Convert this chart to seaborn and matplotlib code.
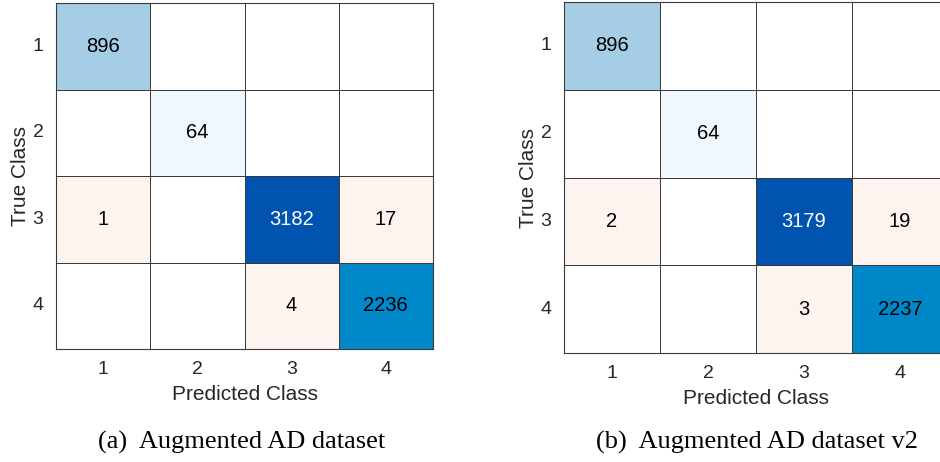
import numpy as np
import pandas as pd
import matplotlib
matplotlib.use("Agg")
import matplotlib.pyplot as plt
from matplotlib.colors import LinearSegmentedColormap, ListedColormap, Normalize
import seaborn as sns

# Class labels and confusion counts (rows: true class, columns: predicted class)
classes = ["1", "2", "3", "4"]
counts_a = [
    [896, 0, 0, 0],
    [0, 64, 0, 0],
    [1, 0, 3182, 17],
    [0, 0, 4, 2236],
]
counts_b = [
    [896, 0, 0, 0],
    [0, 64, 0, 0],
    [2, 0, 3179, 19],
    [0, 0, 3, 2237],
]
captions = ["(a)  Augmented AD dataset", "(b)  Augmented AD dataset v2"]

sns.set_theme(style="white")
plt.rcParams["font.family"] = ["Liberation Sans", "DejaVu Sans"]

text_gray = "#262626"
grid_col = "#3a3a3a"

diag_cmap = LinearSegmentedColormap.from_list(
    "diag_blues",
    [(0.0, "#f6faff"), (0.28, "#a6cde6"), (0.70, "#0088c8"), (1.0, "#0053ae")],
)
off_cmap = ListedColormap(["#fdf3ef"])
white_cmap = ListedColormap(["white"])


def luminance(rgba):
    vals = []
    for c in rgba[:3]:
        vals.append(c / 12.92 if c <= 0.03928 else ((c + 0.055) / 1.055) ** 2.4)
    return 0.2126 * vals[0] + 0.7152 * vals[1] + 0.0722 * vals[2]


def draw_matrix(ax, counts):
    df = pd.DataFrame(counts, index=classes, columns=classes)
    m = df.values
    eye = np.eye(len(classes), dtype=bool)
    vmax = m.max()
    common = dict(ax=ax, cbar=False, linewidths=0.6, linecolor=grid_col,
                  square=False, xticklabels=classes, yticklabels=classes)

    # background grid for every cell
    sns.heatmap(df, cmap=white_cmap, annot=False, **common)
    # diagonal (correct predictions)
    sns.heatmap(df, mask=~eye, cmap=diag_cmap, vmin=0, vmax=vmax,
                annot=True, fmt="d", annot_kws={"fontsize": 14.5}, **common)
    n_diag = len(ax.texts)
    # off-diagonal, non-zero (misclassifications)
    sns.heatmap(df, mask=eye | (m == 0), cmap=off_cmap, vmin=0, vmax=1,
                annot=True, fmt="d", annot_kws={"fontsize": 14.5}, **common)

    norm = Normalize(0, vmax)
    for k, t in enumerate(ax.texts):
        v = float(t.get_text())
        if k < n_diag:
            lum = luminance(diag_cmap(norm(v)))
            t.set_color("white" if lum < 0.15 else "black")
        else:
            t.set_color("black")

    for s in ax.spines.values():
        s.set_visible(True)
        s.set_color(grid_col)
        s.set_linewidth(0.8)
    ax.tick_params(axis="both", length=0, labelsize=14, colors=text_gray)
    ax.tick_params(axis="x", pad=9)
    ax.tick_params(axis="y", pad=9)
    plt.setp(ax.get_yticklabels(), rotation=0)
    plt.setp(ax.get_xticklabels(), rotation=0)
    ax.set_xlabel("Predicted Class", fontsize=15, color=text_gray, labelpad=5)
    ax.set_ylabel("True Class", fontsize=15, color=text_gray, labelpad=2)


fig = plt.figure(figsize=(9.4, 4.62), dpi=100)
ax_a = fig.add_axes([56 / 940, 1 - 349 / 462, 377 / 940, 346 / 462])
ax_b = fig.add_axes([564 / 940, 1 - 353 / 462, 384 / 940, 351 / 462])

draw_matrix(ax_a, counts_a)
draw_matrix(ax_b, counts_b)

for x, cap in zip([242 / 940, 757 / 940], captions):
    fig.text(x, 1 - 442 / 462, cap, ha="center", va="center", fontsize=19,
             family=["Liberation Serif", "DejaVu Serif"], color="black")

fig.savefig("out.png", dpi=100)
